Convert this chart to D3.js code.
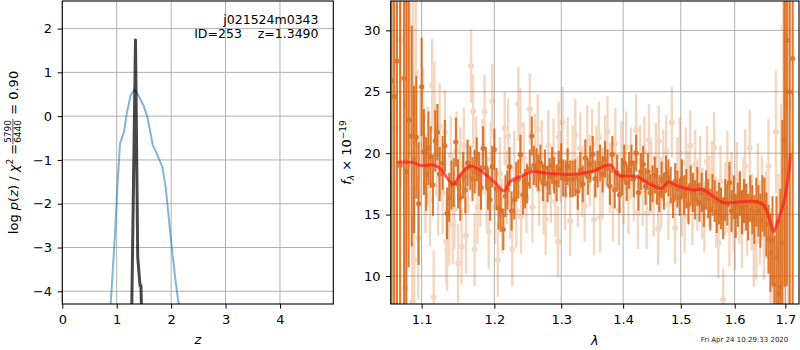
<!DOCTYPE html>
<html>
<head>
<meta charset="utf-8">
<script src="https://cdn.jsdelivr.net/npm/d3@7"></script>
<style>
  body { margin: 0; background: #fff; }
  svg { display: block; font-family: "DejaVu Sans", sans-serif; }
  .grid line { stroke: #b0b0b0; stroke-width: 1; }
  .axis line { stroke: #000; }
  .axis text { font-size: 13px; fill: #000; font-family: "DejaVu Sans", sans-serif; }
</style>
</head>
<body>
<svg id="chart" width="800" height="350"></svg>
<script>
// ---- left panel: log p(z) ----
const zTicks = [0, 1, 2, 3, 4];
const pzTicks = [-4, -3, -2, -1, 0, 1, 2];
const pzBlueZ = [0.889, 0.969, 1.012, 1.061, 1.134, 1.184, 1.257, 1.324, 1.397, 1.489, 1.563, 1.662, 1.735, 1.838, 1.90, 2.011, 2.084, 2.14];
const pzBlue = [-4.3, -2.68, -1.62, -0.625, -0.36, 0.06, 0.48, 0.61, 0.48, 0.25, -0.015, -0.66, -0.85, -1.16, -1.62, -2.99, -3.79, -4.3];
const pzBlackZ = [1.276, 1.345, 1.386, 1.428, 1.445, 1.455];
const pzBlack = [-4.4, 1.74, -3.22, -3.87, -3.87, -4.4];

// ---- right panel: spectrum ----
const lamTicks = [1.1, 1.2, 1.3, 1.4, 1.5, 1.6, 1.7];
const fluxTicks = [10, 15, 20, 25, 30];

const darkLam = [1.061, 1.064, 1.068, 1.072, 1.077, 1.080, 1.083, 1.087, 1.090, 1.093, 1.096, 1.100, 1.103, 1.106, 1.109,
  1.112, 1.115, 1.118, 1.121, 1.124, 1.128, 1.131, 1.134, 1.137, 1.140, 1.143, 1.146, 1.149, 1.152, 1.156, 1.159, 1.162,
  1.166, 1.169, 1.172, 1.175, 1.178, 1.181, 1.184, 1.188, 1.191, 1.194, 1.197, 1.200, 1.203, 1.206, 1.209, 1.213, 1.216,
  1.219, 1.222, 1.225, 1.229, 1.232, 1.235, 1.238, 1.242, 1.245, 1.248, 1.252, 1.255, 1.258, 1.262, 1.265, 1.268, 1.272,
  1.275, 1.279, 1.282, 1.286, 1.289, 1.293, 1.296, 1.300, 1.303, 1.307, 1.310, 1.314, 1.318, 1.322, 1.326, 1.330, 1.334,
  1.338, 1.342, 1.346, 1.350, 1.354, 1.358, 1.362, 1.366, 1.370, 1.374, 1.378, 1.382, 1.386, 1.390, 1.394, 1.398, 1.402,
  1.406, 1.410, 1.414, 1.418, 1.422, 1.426, 1.430, 1.434, 1.438, 1.442, 1.446, 1.450, 1.454, 1.458, 1.462, 1.466, 1.470,
  1.474, 1.478, 1.482, 1.486, 1.490, 1.494, 1.498, 1.502, 1.506, 1.510, 1.514, 1.518, 1.522, 1.526, 1.530, 1.534, 1.538,
  1.542, 1.546, 1.550, 1.554, 1.558, 1.562, 1.566, 1.570, 1.574, 1.578, 1.582, 1.586, 1.590, 1.594, 1.598, 1.602, 1.606,
  1.610, 1.614, 1.618, 1.622, 1.626, 1.630, 1.634, 1.638, 1.642, 1.646, 1.650, 1.654, 1.658, 1.662, 1.666, 1.670, 1.674,
  1.678, 1.682, 1.686, 1.690, 1.694, 1.698, 1.703, 1.709, 1.715];
const darkFlux = [25.9, 24.6, 27.5, 19.0, 26.1, 18.5, 22.7, 21.4, 19.5, 21.3, 15.9, 25.4, 20.1, 18.3, 20.4,
  19.7, 17.4, 21.0, 21.7, 18.3, 19.2, 20.6, 15.1, 16.4, 17.4, 17.6, 20.9, 17.5, 16.4, 18.2, 17.0, 19.2,
  18.8, 17.9, 18.5, 19.5, 18.3, 17.2, 20.4, 18.8, 17.1, 16.2, 18.9, 20.3, 17.1, 15.5, 15.3, 13.8, 16.5,
  17.0, 18.9, 15.3, 16.2, 17.7, 17.9, 19.9, 16.6, 17.1, 17.5, 18.7, 21.4, 19.0, 18.8, 18.4, 19.2, 17.6,
  18.8, 17.5, 18.1, 19.0, 18.2, 17.6, 18.7, 19.3, 18.0, 17.9, 18.9, 17.9, 17.9, 18.0, 16.9, 18.6, 17.5,
  19.6, 18.1, 19.1, 19.9, 17.9, 18.7, 19.2, 18.3, 19.5, 18.8, 17.3, 19.9, 17.0, 18.4, 16.6, 18.1, 19.2,
  17.6, 18.6, 19.2, 17.9, 20.0, 16.8, 18.5, 19.1, 17.3, 18.5, 16.8, 17.5, 18.2, 17.3, 16.7, 17.8, 16.9,
  18.3, 18.0, 17.4, 16.2, 17.7, 17.1, 16.4, 17.9, 16.6, 17.1, 15.8, 17.4, 16.8, 16.2, 17.3, 16.0, 16.8,
  15.6, 17.0, 16.3, 15.4, 16.6, 16.1, 15.2, 15.9, 15.5, 14.7, 16.2, 15.8, 17.6, 15.3, 16.4, 14.9, 15.8,
  16.7, 15.2, 16.1, 15.6, 14.8, 16.3, 15.4, 14.6, 16.0, 15.3, 14.5, 15.9, 15.6, 14.2, 13.0, 11.9, 12.9,
  9.3, 11.5, 8.6, 9.1, 12.7, 21.1, 29.2, 25.0, 27.7];
const darkErr = [30, 30, 30, 25, 30, 20, 12, 9, 6, 5, 5, 4, 3.5, 3, 3,
  2.5, 2.5, 2.5, 2.3, 2.2, 2.2, 2.1, 2.1, 2.0, 2.0, 2.0, 2.0, 2.0, 1.9, 1.9, 1.9, 1.9,
  1.8, 1.8, 1.8, 1.8, 1.8, 1.8, 1.8, 1.7, 1.7, 1.7, 1.7, 1.7, 1.7, 1.7, 1.7, 1.7, 1.7,
  1.6, 1.6, 1.6, 1.6, 1.6, 1.6, 1.6, 1.6, 1.6, 1.6, 1.6, 1.6, 1.6, 1.6, 1.5, 1.5, 1.5,
  1.5, 1.5, 1.5, 1.5, 1.5, 1.5, 1.5, 1.5, 1.5, 1.5, 1.5, 1.5, 1.5, 1.5, 1.5, 1.5, 1.5,
  1.5, 1.5, 1.5, 1.5, 1.5, 1.5, 1.5, 1.5, 1.5, 1.5, 1.5, 1.5, 1.5, 1.5, 1.5, 1.5, 1.5,
  1.5, 1.5, 1.5, 1.5, 1.5, 1.5, 1.5, 1.5, 1.5, 1.5, 1.5, 1.5, 1.5, 1.5, 1.5, 1.5, 1.5,
  1.5, 1.5, 1.5, 1.5, 1.5, 1.5, 1.5, 1.6, 1.6, 1.6, 1.6, 1.6, 1.6, 1.6, 1.6, 1.6, 1.6,
  1.6, 1.6, 1.6, 1.7, 1.7, 1.7, 1.7, 1.7, 1.7, 1.7, 1.7, 1.7, 1.7, 1.7, 1.8, 1.8, 1.8,
  1.8, 1.8, 1.8, 1.9, 1.9, 1.9, 2.0, 2.0, 2.0, 2.1, 2.2, 2.3, 2.4, 2.6, 2.8, 3.2, 3.6,
  4, 5, 6, 8, 10, 12, 20, 25, 30];

const lightLam = [1.066, 1.0727, 1.0791, 1.0812, 1.0847, 1.0877, 1.089, 1.0903, 1.0925, 1.0955, 1.098, 1.102, 1.105, 1.108,
  1.111, 1.114, 1.116, 1.117, 1.120, 1.122, 1.124, 1.128, 1.131, 1.133, 1.134, 1.137, 1.139, 1.142, 1.144, 1.147, 1.149,
  1.152, 1.154, 1.157, 1.160, 1.163, 1.167, 1.170, 1.172, 1.174, 1.176, 1.180, 1.183, 1.186, 1.189, 1.192, 1.195, 1.197,
  1.201, 1.205, 1.208, 1.211, 1.215, 1.218, 1.220, 1.223, 1.226, 1.229, 1.232, 1.235, 1.238, 1.239, 1.243, 1.247, 1.252,
  1.256, 1.260, 1.264, 1.266, 1.270, 1.273, 1.276, 1.280, 1.284, 1.288, 1.291, 1.295, 1.296, 1.299, 1.302, 1.306, 1.310,
  1.314, 1.318, 1.322, 1.326, 1.330, 1.333, 1.337, 1.341, 1.345, 1.349, 1.352, 1.356, 1.360, 1.362, 1.366, 1.370, 1.374,
  1.378, 1.383, 1.387, 1.393, 1.397, 1.401, 1.405, 1.409, 1.413, 1.418, 1.422, 1.425, 1.429, 1.433, 1.436, 1.440, 1.444,
  1.448, 1.452, 1.456, 1.460, 1.461, 1.465, 1.469, 1.474, 1.478, 1.484, 1.490, 1.494, 1.498, 1.502, 1.507, 1.509, 1.513,
  1.517, 1.521, 1.526, 1.530, 1.535, 1.539, 1.543, 1.548, 1.552, 1.557, 1.561, 1.565, 1.569, 1.573, 1.578, 1.582, 1.586,
  1.590, 1.594, 1.598, 1.600, 1.604, 1.609, 1.614, 1.617, 1.620, 1.624, 1.629, 1.633, 1.637, 1.642, 1.645, 1.649, 1.653,
  1.657, 1.661, 1.666, 1.670, 1.676, 1.681, 1.686, 1.691, 1.696, 1.700, 1.706];
const lightFlux = [22.0, 29.2, 9.0, 24.0, 27.6, 7.9, 28.2, 11.3, 26.6, 13.1, 20.6, 22.9, 17.5, 19.8,
  16.2, 25.5, 8.3, 23.8, 20.0, 16.8, 22.2, 16.8, 21.75, 12.8, 12.06, 14.15, 19.8, 14.15, 15.4, 20.2, 11.03,
  19.0, 12.4, 20.6, 13.3, 18.1, 27.1, 23.4, 12.17, 20.0, 15.6, 17.0, 19.8, 23.4, 16.8, 13.6, 19.5, 24.25,
  15.6, 11.3, 18.3, 14.9, 22.0, 17.2, 21.4, 16.0, 12.17, 18.8, 15.3, 24.0, 22.3, 14.8, 19.6, 16.4, 23.6,
  15.6, 20.3, 21.9, 17.0, 19.8, 16.3, 14.6, 20.6, 17.2, 19.9, 16.1, 12.8, 21.3, 18.9, 22.5, 16.6, 20.0,
  14.5, 19.4, 21.5, 16.9, 20.4, 17.7, 15.7, 21.0, 18.6, 20.7, 14.6, 19.3, 21.3, 14.8, 17.6, 20.2, 21.75,
  18.0, 15.7, 20.8, 15.4, 19.7, 17.1, 20.5, 16.3, 19.2, 17.4, 21.9, 15.1, 19.4, 17.0, 20.1, 15.1, 21.1,
  18.0, 16.1, 19.6, 13.8, 21.0, 16.8, 19.0, 20.2, 15.8, 22.5, 13.9, 18.4, 20.0, 16.1, 14.8, 19.2, 17.3,
  20.6, 15.4, 19.0, 16.6, 18.5, 15.9, 14.8, 19.3, 16.9, 18.1, 20.45, 15.2, 12.7, 17.7, 8.1, 16.3, 18.8,
  13.75, 17.1, 15.0, 13.5, 17.9, 15.6, 13.66, 16.7, 18.96, 14.6, 20.45, 15.2, 12.25, 12.9, 17.6, 14.2, 16.5,
  13.2, 15.0, 18.96, 11.5, 9.94, 21.75, 12.3, 16.0, 30.25, 20.0, 24.0];
const lightErr = [15, 12, 10, 9, 8, 7, 7, 6, 6, 5, 4.5, 4, 4, 4,
  3.8, 3.8, 3.8, 3.6, 3.5, 3.5, 3.5, 3.4, 3.4, 3.4, 3.3, 3.3, 3.2, 3.2, 3.2, 3.2, 3.2,
  3.1, 3.1, 3.1, 3.1, 3.0, 3.0, 3.0, 3.0, 3.0, 3.0, 3.0, 3.0, 3.0, 3.0, 3.0, 3.0, 3.0,
  3.0, 3.0, 3.0, 3.0, 3.0, 3.0, 3.0, 3.0, 3.0, 3.0, 3.0, 3.0, 3.0, 3.0, 2.9, 2.9, 2.9,
  2.9, 2.9, 2.9, 2.9, 2.9, 2.9, 2.9, 2.9, 2.9, 2.9, 2.9, 2.9, 2.9, 2.9, 2.9, 2.9, 2.9,
  2.9, 2.9, 2.9, 2.9, 2.9, 2.9, 2.9, 2.9, 2.9, 2.9, 2.9, 2.9, 2.9, 2.9, 2.9, 2.9, 2.9,
  2.9, 2.9, 2.9, 2.9, 2.9, 2.9, 2.9, 2.9, 2.9, 2.9, 2.9, 2.9, 2.9, 2.9, 2.9, 2.9, 2.9,
  2.9, 2.9, 2.9, 2.9, 2.9, 2.9, 2.9, 2.9, 2.9, 2.9, 2.9, 2.9, 2.9, 2.9, 2.9, 2.9, 2.9,
  2.9, 2.9, 2.9, 2.9, 2.9, 2.9, 2.9, 2.9, 2.9, 2.9, 2.9, 2.9, 2.9, 2.9, 2.5, 3.0, 3.0,
  3.0, 3.0, 3.0, 3.0, 3.0, 3.0, 3.0, 3.0, 3.0, 3.0, 3.1, 3.1, 3.1, 3.2, 3.2, 3.3, 3.3,
  3.5, 3.6, 3.8, 4, 4.5, 5, 6, 8, 10, 14, 20];

const modelLam = [1.0683, 1.0869, 1.1, 1.1154, 1.1244, 1.1424, 1.1517, 1.1655, 1.1749, 1.1891, 1.2034, 1.2144, 1.2227,
  1.2375, 1.2574, 1.2777, 1.2983, 1.3191, 1.3511, 1.3784, 1.3922, 1.4232, 1.4461, 1.4665, 1.4781, 1.4901, 1.5231,
  1.5385, 1.5600, 1.5789, 1.6108, 1.6433, 1.6564, 1.6663, 1.6763, 1.6864, 1.6965, 1.7067, 1.7102];
const modelFlux = [19.26, 19.26, 18.98, 19.04, 18.77, 17.47, 18.22, 18.96, 18.77, 18.2, 17.47, 16.92, 17.68,
  18.09, 18.5, 18.36, 18.3, 18.28, 18.55, 19.04, 18.22, 18.09, 17.47, 17.14, 17.68, 17.41, 17.0,
  17.06, 16.46, 15.97, 16.05, 16.05, 15.78, 14.83, 13.61, 14.69, 15.92, 18.36, 20.0];

const spectrumTitle = 'j021524m0343';
const idLine = 'ID=253    z=1.3490';
const stamp = 'Fri Apr 24 10:29:33 2020';

const svg = d3.select('#chart');
const yTop = 1, yBot = 304;

function zip(a, b, c) {
  return a.map((v, i) => (c ? [v, b[i], c[i]] : [v, b[i]]));
}

function panel(id, x, y, xTicks, yTicks, xFmt, yFmt) {
  const [x0, x1] = x.range();
  svg.append('clipPath').attr('id', id)
    .append('rect').attr('x', x0).attr('y', yTop).attr('width', x1 - x0).attr('height', yBot - yTop);

  const grid = svg.append('g').attr('class', 'grid');
  grid.append('g').selectAll('line').data(xTicks).join('line')
    .attr('x1', (d) => x(d)).attr('x2', (d) => x(d)).attr('y1', yTop).attr('y2', yBot);
  grid.append('g').selectAll('line').data(yTicks).join('line')
    .attr('x1', x0).attr('x2', x1).attr('y1', (d) => y(d)).attr('y2', (d) => y(d));

  const plot = svg.append('g').attr('clip-path', `url(#${id})`);

  return { plot, finish() {
    svg.append('g').attr('class', 'axis').attr('transform', `translate(0,${yBot})`)
      .call(d3.axisBottom(x).tickValues(xTicks).tickFormat(xFmt).tickSize(4.7).tickPadding(6.5).tickSizeOuter(0))
      .call((g) => g.select('.domain').remove());
    svg.append('g').attr('class', 'axis').attr('transform', `translate(${x0},0)`)
      .call(d3.axisLeft(y).tickValues(yTicks).tickFormat(yFmt).tickSize(4.7).tickPadding(5.5).tickSizeOuter(0))
      .call((g) => g.select('.domain').remove());
    svg.append('rect').attr('x', x0).attr('y', yTop).attr('width', x1 - x0).attr('height', yBot - yTop)
      .attr('fill', 'none').attr('stroke', '#000').attr('stroke-width', 1.1);
  } };
}

// left panel
const zScale = d3.scaleLinear().domain([0, 4.98]).range([62.3, 333.3]);
const pzScale = d3.scaleLinear().domain([-4.29, 2.63]).range([yBot, yTop]);
const L = panel('clipL', zScale, pzScale, zTicks, pzTicks, d3.format('d'), d3.format('d'));
const pzLine = d3.line().x((d) => zScale(d[0])).y((d) => pzScale(d[1]));
L.plot.append('path').attr('d', pzLine(zip(pzBlueZ, pzBlue)))
  .attr('fill', 'none').attr('stroke', '#1f77b4').attr('stroke-opacity', 0.55).attr('stroke-width', 2);
L.plot.append('path').attr('d', pzLine(zip(pzBlackZ, pzBlack)))
  .attr('fill', 'none').attr('stroke', '#000').attr('stroke-opacity', 0.72).attr('stroke-width', 3)
  .attr('stroke-linejoin', 'round');
L.finish();

svg.append('text').attr('x', 318.5).attr('y', 23.5).attr('text-anchor', 'end')
  .attr('font-size', 12.5).text(spectrumTitle);
svg.append('text').attr('x', 318.5).attr('y', 37.5).attr('text-anchor', 'end')
  .attr('font-size', 12.5).style('white-space', 'pre').text(idLine);

// right panel
const lamScale = d3.scaleLog().domain([1.06, 1.728]).range([390.7, 799]);
const fScale = d3.scaleLinear().domain([7.72, 32.39]).range([yBot, yTop]);
const R = panel('clipR', lamScale, fScale, lamTicks, fluxTicks, d3.format('.1f'), d3.format('d'));
const orange = '#d65f0a';

function errorbars(g, pts, opacity, r, w) {
  const s = g.append('g').attr('opacity', opacity);
  s.selectAll('line').data(pts).join('line')
    .attr('x1', (d) => lamScale(d[0])).attr('x2', (d) => lamScale(d[0]))
    .attr('y1', (d) => fScale(d[1] - d[2])).attr('y2', (d) => fScale(d[1] + d[2]))
    .attr('stroke', orange).attr('stroke-width', w);
  s.selectAll('circle').data(pts).join('circle')
    .attr('cx', (d) => lamScale(d[0])).attr('cy', (d) => fScale(d[1])).attr('r', r)
    .attr('fill', orange);
}
errorbars(R.plot, zip(lightLam, lightFlux, lightErr), 0.25, 3, 2.4);
errorbars(R.plot, zip(darkLam, darkFlux, darkErr), 0.82, 2.6, 2.1);

R.plot.append('path')
  .attr('d', d3.line().curve(d3.curveCatmullRom.alpha(0.5)).x((d) => lamScale(d[0])).y((d) => fScale(d[1]))(zip(modelLam, modelFlux)))
  .attr('fill', 'none').attr('stroke', '#ff1a1a').attr('stroke-opacity', 0.7).attr('stroke-width', 3);
R.finish();

// axis labels
svg.append('text').attr('x', 197.8).attr('y', 343.5).attr('text-anchor', 'middle')
  .attr('font-size', 13).attr('font-style', 'italic').text('z');
svg.append('text').attr('x', 594.9).attr('y', 344.5).attr('text-anchor', 'middle')
  .attr('font-size', 13).attr('font-style', 'italic').text('λ');

// left y label with a stacked fraction
const yl = svg.append('g').attr('transform', 'translate(17.5,152.5) rotate(-90)').attr('font-size', 13);
const t1 = yl.append('text').attr('x', 0).attr('y', 0);
t1.append('tspan').text('log ');
t1.append('tspan').attr('font-style', 'italic').text('p');
t1.append('tspan').text('(');
t1.append('tspan').attr('font-style', 'italic').text('z');
t1.append('tspan').text(') / ');
t1.append('tspan').attr('font-style', 'italic').text('χ');
t1.append('tspan').attr('font-size', 9).attr('dy', -5).text('2');
t1.append('tspan').attr('dy', 5).text(' = ');
const w1 = t1.node().getComputedTextLength();
const num = yl.append('text').attr('font-size', 9).attr('y', -7).attr('text-anchor', 'middle').text('5790');
const den = yl.append('text').attr('font-size', 9).attr('y', 3.5).attr('text-anchor', 'middle').text('6440');
const wf = Math.max(num.node().getComputedTextLength(), den.node().getComputedTextLength()) + 2;
num.attr('x', w1 + wf / 2);
den.attr('x', w1 + wf / 2);
yl.append('line').attr('x1', w1).attr('x2', w1 + wf).attr('y1', -4.6).attr('y2', -4.6)
  .attr('stroke', '#000').attr('stroke-width', 0.7);
const t3 = yl.append('text').attr('x', w1 + wf).attr('y', 0).style('white-space', 'pre').text(' = 0.90');
const total = w1 + wf + t3.node().getComputedTextLength();
yl.selectAll('text, line').attr('transform', `translate(${-total / 2},0)`);

// right y label
const yr = svg.append('g').attr('transform', 'translate(351,152.5) rotate(-90)').attr('font-size', 13);
const tr = yr.append('text').attr('text-anchor', 'middle');
tr.append('tspan').attr('font-style', 'italic').text('f');
tr.append('tspan').attr('font-style', 'italic').attr('font-size', 9).attr('dy', 3).text('λ');
tr.append('tspan').attr('dy', -3).style('white-space', 'pre').text(' × 10');
tr.append('tspan').attr('font-size', 9).attr('dy', -5).text('−19');

svg.append('text').attr('x', 744.5).attr('y', 341.5).attr('text-anchor', 'middle')
  .attr('font-size', 7).attr('fill', '#222').text(stamp);
</script>
</body>
</html>
